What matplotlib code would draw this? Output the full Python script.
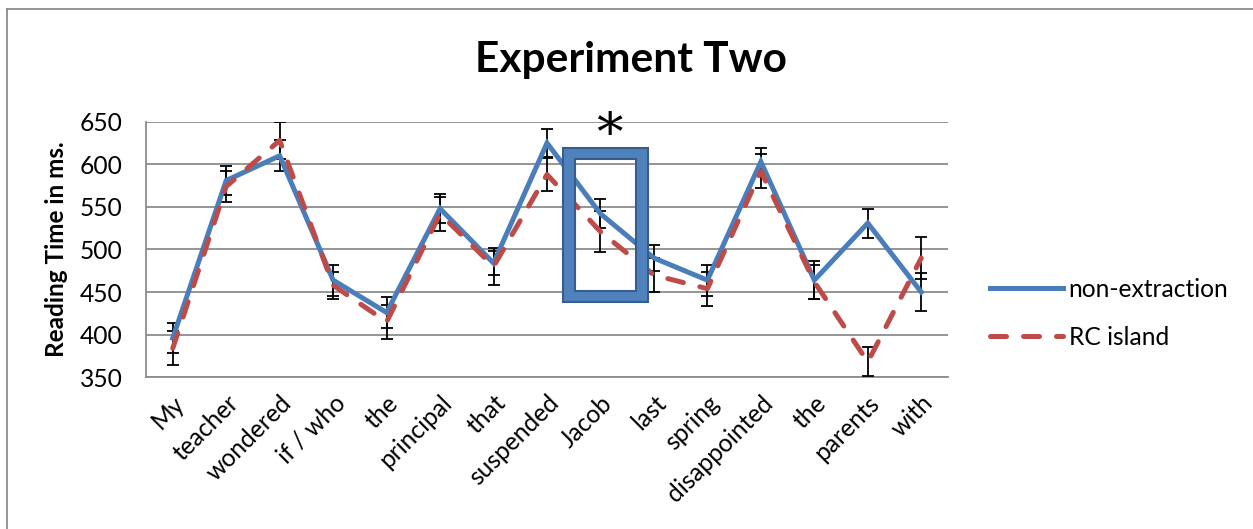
import matplotlib
matplotlib.use("Agg")
import matplotlib.pyplot as plt
from matplotlib.path import Path
from matplotlib.patches import PathPatch
from matplotlib.lines import Line2D
import matplotlib.transforms as mtransforms
import numpy as np

plt.rcParams['font.family'] = ['Lato', 'DejaVu Sans']

words = ["My", "teacher", "wondered", "if / who", "the", "principal", "that",
         "suspended", "Jacob", "last", "spring", "disappointed", "the", "parents", "with"]
non_extraction = [396, 581, 610, 464, 426, 548, 484, 625, 542, 490, 464, 603, 464, 531, 450]
non_extraction_err = [18, 17, 18, 18, 18, 17, 14, 16, 17, 15, 18, 16, 22, 17, 22]
rc_island = [384, 574, 628, 458, 415, 542, 480, 588, 521, 470, 454, 592, 462, 368, 490]
rc_island_err = [20, 18, 22, 16, 20, 20, 22, 19, 24, 20, 20, 20, 20, 17, 25]
y_ticks = [350, 400, 450, 500, 550, 600, 650]

BLUE = "#4A7EBB"
RED = "#BE4B48"
GRID = "#8C8C8C"
FS = 17.7

W, H = 1253, 529
fig = plt.figure(figsize=(W / 100, H / 100), dpi=100)
ax = fig.add_axes([146 / W, 1 - 377.3 / H, (948 - 146) / W, (377.3 - 121.7) / H])

x = np.arange(len(words))
ax.errorbar(x, non_extraction, yerr=non_extraction_err, fmt='none', ecolor='black',
            elinewidth=1.3, capsize=4, capthick=1.3, zorder=3)
ax.errorbar(x, rc_island, yerr=rc_island_err, fmt='none', ecolor='black',
            elinewidth=1.3, capsize=4, capthick=1.3, zorder=3)
ax.plot(x, non_extraction, color=BLUE, lw=3.6, solid_joinstyle='miter',
        label="non-extraction", zorder=4)
ax.plot(x, rc_island, color=RED, lw=3.6, dashes=(3.2, 3.4), dash_capstyle='round',
        label="RC island", zorder=4)

ax.set_xlim(-0.5, len(words) - 0.5)
ax.set_ylim(350, 650)
ax.set_yticks(y_ticks)
ax.set_yticklabels([str(v) for v in y_ticks], fontsize=FS)
ax.yaxis.grid(True, color=GRID, lw=1.3)
ax.set_axisbelow(True)
ax.tick_params(axis='both', length=0)
ax.tick_params(axis='y', pad=17)
for s in ['top', 'right']:
    ax.spines[s].set_visible(False)
for s in ['left', 'bottom']:
    ax.spines[s].set_color(GRID)
    ax.spines[s].set_linewidth(1.3)

ax.set_xticks(x)
ax.set_xticklabels(words, fontsize=FS, rotation=45, ha='right', va='top',
                   rotation_mode='anchor')
off = mtransforms.ScaledTranslation(7 / 100, 0, fig.dpi_scale_trans)
for lab in ax.get_xticklabels():
    lab.set_transform(lab.get_transform() + off)
ax.tick_params(axis='x', pad=10)

ax.set_ylabel("Reading Time in ms.", fontsize=17.5, fontweight='bold', labelpad=8)

# highlight box around "Jacob" region
def rect(x0, x1, y0, y1):
    return [(x0, y0), (x1, y0), (x1, y1), (x0, y1), (x0, y0)]
outer = rect(7.30, 8.89, 438, 619.5)
inner = rect(7.52, 8.67, 451.3, 605.9)[::-1]
verts = outer + inner
codes = [Path.MOVETO] + [Path.LINETO] * 3 + [Path.CLOSEPOLY] + \
        [Path.MOVETO] + [Path.LINETO] * 3 + [Path.CLOSEPOLY]
ax.add_patch(PathPatch(Path(verts, codes), facecolor="#4F81BD", edgecolor="#385D8A",
                       lw=1.5, zorder=5))
ax.text(8.17, 634, "*", fontsize=38, family='DejaVu Serif', ha='center', va='center',
        zorder=6, clip_on=False)

fig.text(631 / W, 1 - 60 / H, "Experiment Two", fontsize=30.5, fontweight='bold',
         ha='center', va='center')

fig.legend(loc='center left', bbox_to_anchor=(990 / W, 1 - 313.3 / H), frameon=False,
           fontsize=FS, handlelength=2.95, handletextpad=0.25, labelspacing=1.0,
           borderpad=0, borderaxespad=0)

fig.add_artist(Line2D([7 / W, 7 / W], [0, 1 - 9 / H], color=GRID, lw=1.3))
fig.add_artist(Line2D([7 / W, 1], [1 - 9 / H, 1 - 9 / H], color=GRID, lw=1.3))

fig.savefig("out.png", dpi=100)
